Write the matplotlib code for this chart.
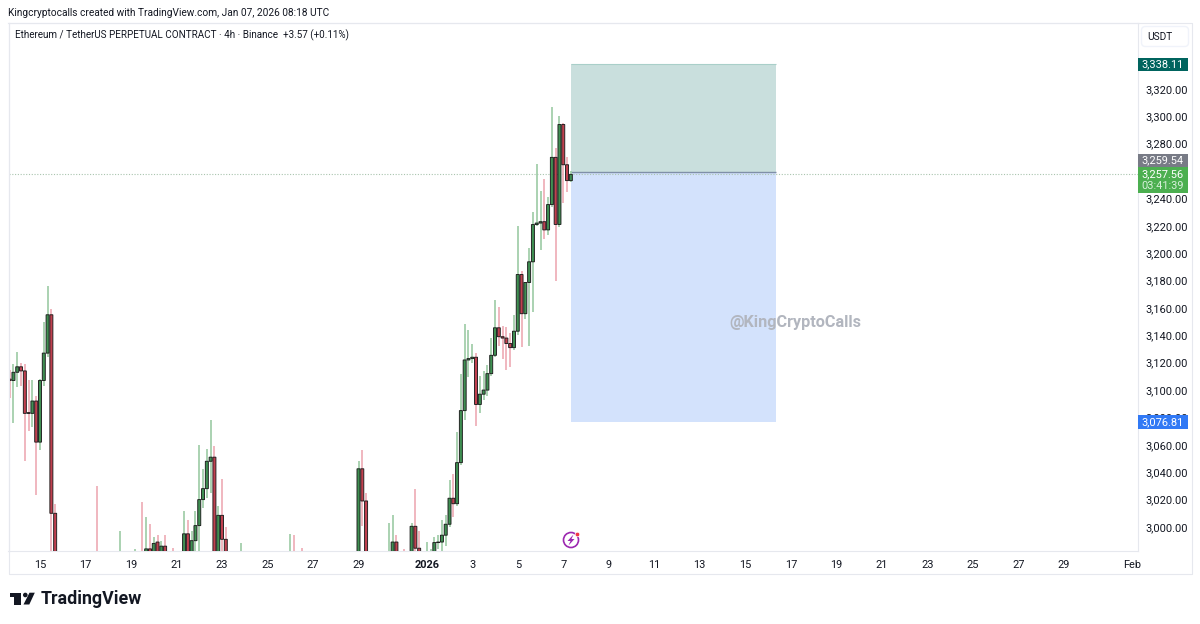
import matplotlib
matplotlib.use("Agg")
import matplotlib.dates as mdates
import pandas as pd
from matplotlib import pyplot as plt
from matplotlib.patches import Circle, FancyBboxPatch, Polygon, Rectangle

W, H = 1200, 624
FONT = "Roboto"

# 4h ETHUSDT perp candles (anything under about 2982 is hidden by the axis, so a guess)
opens = [
    3108, 3107, 3113, 3117, 3114, 3083.5, 3083, 3092, 3062, 3107,
    3127, 3155, 3010, 2975, 2968, 2972, 2962, 2970, 2965, 2958,
    2966, 2972, 2968, 2975, 2965, 2970, 2962, 2956, 2964, 2972,
    2978, 2970, 2975, 2966, 2976, 2978, 2970, 2984, 2978, 2989,
    2981, 2986, 2978, 2980, 2972, 2976, 2970, 2995, 2980, 2990,
    3001, 3020, 3028, 3048, 3051, 2975, 3008.5, 2991, 2965, 2958,
    2962, 2970, 2978, 2968, 2972, 2966, 2970, 2975, 2969, 2964,
    2971, 2976, 2970, 2973, 2975, 2979, 2972, 2978, 2971, 2966,
    2972, 2968, 2962, 2958, 2965, 2970, 2964, 2960, 2968, 2972,
    2966, 2970, 2975, 3042.5, 3019, 2972, 2968, 2964, 2970, 2973,
    2975, 2980, 2989, 2974, 2978, 2971, 2975, 3000.5, 2984.5, 2979,
    2972, 2978, 2980, 2988.6, 2989, 2994, 3002, 3021, 3017, 3047,
    3085, 3122, 3123, 3124, 3089.5, 3097, 3100, 3112, 3125.4, 3145.5,
    3139, 3138, 3134, 3131, 3143, 3184.4, 3155.8, 3178.6, 3193.7, 3220.9,
    3222, 3223, 3217, 3235.5, 3270, 3221, 3294, 3264.6, 3253,
]
highs = [
    3115, 3119, 3128, 3120, 3119, 3107, 3107, 3096, 3108, 3150,
    3176, 3159, 3017, 2980, 2978, 2979, 2975, 2978, 2976, 2972,
    2979, 2980, 2978, 3030, 2975, 2978, 2974, 2970, 2978, 2997,
    2981, 2979, 2980, 2984, 2981, 3018, 3007, 3002, 2993, 2994,
    2990, 2994, 2981, 2985, 2980, 2981, 3012, 3005, 2997, 3012,
    3060, 3042, 3057, 3078, 3059, 3015, 3035, 3000, 2978, 2972,
    2976, 2988, 2981, 2978, 2980, 2975, 2979, 2981, 2977, 2974,
    2980, 2981, 2978, 2981, 2995, 2994, 2980, 2985, 2979, 2975,
    2980, 2977, 2972, 2970, 2976, 2979, 2974, 2972, 2978, 2980,
    2976, 2979, 3048, 3056, 3025, 2980, 2977, 2975, 2979, 2981,
    3003, 3009, 2994, 2980, 2984, 2980, 3003, 3028, 2997, 2981,
    2989, 2984, 2993, 2994, 3005, 3009, 3034, 3039, 3069.5, 3112,
    3148.5, 3143.6, 3134, 3127, 3110, 3114, 3118, 3138, 3165.5, 3161,
    3147, 3146, 3142, 3154.5, 3220, 3187, 3179, 3204, 3230.3, 3265,
    3245.7, 3254, 3240.8, 3307, 3277, 3300, 3295, 3270, 3260,
]
lows = [
    3094, 3076, 3102, 3103, 3048, 3070, 3073, 3023, 3056, 3103,
    3124, 2975, 2965, 2960, 2955, 2958, 2952, 2960, 2950, 2948,
    2958, 2962, 2955, 2960, 2955, 2958, 2950, 2948, 2955, 2965,
    2966, 2962, 2960, 2960, 2962, 2962, 2965, 2972, 2974, 2978,
    2976, 2975, 2968, 2968, 2964, 2966, 2966, 2978, 2976, 2975,
    2975, 3014, 3021, 3025, 2970, 2970, 2975, 2955, 2950, 2945,
    2952, 2962, 2962, 2958, 2965, 2955, 2962, 2966, 2960, 2956,
    2964, 2968, 2962, 2966, 2968, 2968, 2964, 2968, 2962, 2958,
    2964, 2956, 2950, 2948, 2958, 2960, 2954, 2950, 2962, 2964,
    2958, 2962, 2968, 3001, 2965, 2962, 2958, 2955, 2962, 2966,
    2970, 2975, 2970, 2966, 2966, 2964, 2970, 2975, 2976, 2968,
    2968, 2974, 2976, 2984, 2982, 2986, 3000, 3007, 3015, 3045,
    3078, 3109.6, 3120, 3074, 3083, 3092.6, 3096, 3110, 3124, 3132,
    3123, 3115, 3117, 3129, 3140, 3131.4, 3151.6, 3132, 3157, 3220,
    3202, 3210, 3213, 3234, 3180, 3219, 3237, 3245, 3252,
]
closes = [
    3107, 3113, 3117, 3114, 3083, 3083, 3092, 3062, 3107, 3127,
    3155, 3010, 2975, 2968, 2972, 2962, 2970, 2965, 2958, 2966,
    2972, 2968, 2960, 2965, 2970, 2962, 2956, 2964, 2972, 2978,
    2970, 2975, 2966, 2976, 2968, 2970, 2984, 2978, 2988, 2981,
    2986, 2978, 2974, 2972, 2976, 2970, 2995, 2980, 2990, 3001,
    3020, 3028, 3048, 3051, 2975, 3008.5, 2991, 2965, 2958, 2962,
    2970, 2978, 2968, 2972, 2966, 2970, 2975, 2969, 2964, 2971,
    2976, 2970, 2973, 2975, 2979, 2972, 2976, 2971, 2966, 2972,
    2968, 2962, 2958, 2965, 2970, 2964, 2960, 2968, 2972, 2966,
    2970, 2975, 3042.5, 3019, 2972, 2968, 2964, 2970, 2973, 2975,
    2980, 2989, 2974, 2970, 2971, 2975, 3000.5, 2984.5, 2979, 2972,
    2978, 2980, 2988.6, 2989, 2994, 3002, 3021, 3017, 3047, 3085,
    3122, 3123, 3124, 3089.5, 3097, 3100, 3112, 3125.4, 3145.5, 3139,
    3138, 3134, 3131, 3143, 3184.4, 3155.8, 3178.6, 3193.7, 3220.9, 3222,
    3223, 3217, 3235.5, 3270, 3221, 3294, 3264.6, 3253, 3257.56,
]
first_candle = "2025-12-13 16:00"

target_price = 3338.11
entry_price = 3259.54
last_price = 3257.56
stop_price = 3076.81
position_start = "2026-01-07 08:00"
position_end = "2026-01-16 08:00"

price_ticks = list(range(3000, 3341, 20))
date_ticks = ["2025-12-15", "2025-12-17", "2025-12-19", "2025-12-21", "2025-12-23", "2025-12-25",
              "2025-12-27", "2025-12-29", "2026-01-01", "2026-01-03", "2026-01-05", "2026-01-07",
              "2026-01-09", "2026-01-11", "2026-01-13", "2026-01-15", "2026-01-17", "2026-01-19",
              "2026-01-21", "2026-01-23", "2026-01-25", "2026-01-27", "2026-01-29", "2026-02-01"]
date_labels = ["15", "17", "19", "21", "23", "25", "27", "29", "2026", "3", "5", "7", "9", "11",
               "13", "15", "17", "19", "21", "23", "25", "27", "29", "Feb"]

LINE = "#e6e8ee"
TEXT = "#131722"
AXIS_SIZE = 7.9

plt.rcParams["font.family"] = FONT
fig = plt.figure(figsize=(W / 100, H / 100), dpi=100, facecolor="white")
left, right, top, bottom = 8.5, 1138, 22.7, 551
ax = fig.add_axes([left / W, 1 - bottom / H, (right - left) / W, (bottom - top) / H])

times = pd.date_range(first_candle, periods=len(opens), freq="4h")
x = mdates.date2num(times)
wick_colors = ["#9ccba4" if c >= o else "#eeaab4" for o, c in zip(opens, closes)]
body_colors = ["#3f8f52" if c >= o else "#c0404f" for o, c in zip(opens, closes)]

# x axis is 22.75 px per day
d0 = mdates.date2num(pd.Timestamp("2025-12-15"))
ax.set_xlim(d0 + (left - 40) / 22.75, d0 + (right - 40) / 22.75)
ax.set_ylim(3320 - (bottom - 88.9) / 1.369, 3320 + (88.9 - top) / 1.369)

pos_x0 = mdates.date2num(pd.Timestamp(position_start))
pos_x1 = mdates.date2num(pd.Timestamp(position_end))
ax.fill_between([pos_x0, pos_x1], entry_price, target_price, facecolor="#c9dfdd", edgecolor="none", zorder=1)
ax.fill_between([pos_x0, pos_x1], stop_price, entry_price, facecolor="#d3e2fc", edgecolor="none", zorder=1)
ax.hlines(target_price, pos_x0, pos_x1, color="#a9cfc9", lw=0.8, zorder=2)
ax.hlines(entry_price, pos_x0, pos_x1, color="#7f8fa8", lw=1, zorder=2)
ax.axhline(last_price, color="#a9c4ae", lw=0.8, ls=(0, (1, 1.5)), zorder=2)

ax.vlines(x, lows, highs, colors=wick_colors, lw=1.2, zorder=3)
heights = [abs(c - o) for o, c in zip(opens, closes)]
bases = [min(o, c) for o, c in zip(opens, closes)]
bars = ax.bar(x, heights, bottom=bases, width=3.0 / 22.75, color=body_colors, edgecolor="#1c1c1c",
              linewidth=0.65, zorder=4)
for bar in bars:
    bar.set_snap(False)

ax.yaxis.tick_right()
ax.set_yticks(price_ticks)
# 3,260.00 is completely under the price tags in the screenshot
ax.set_yticklabels(["" if p == 3260 else f"{p:,.2f}" for p in price_ticks], fontsize=AXIS_SIZE, color=TEXT)
ax.set_xticks(mdates.date2num(pd.to_datetime(date_ticks)))
ax.set_xticklabels(date_labels, fontsize=AXIS_SIZE, color=TEXT)
ax.get_xticklabels()[date_labels.index("2026")].set_fontweight("bold")
ax.tick_params(axis="both", length=0)
ax.tick_params(axis="y", pad=5.5)
ax.tick_params(axis="x", pad=6.5)
for side in ax.spines.values():
    side.set_color(LINE)
    side.set_linewidth(0.8)

# everything else is placed in picture pixels on a clear layer
ov = fig.add_axes([0, 0, 1, 1], facecolor="none")
ov.set_xlim(0, W)
ov.set_ylim(H, 0)
ov.axis("off")
fig.canvas.draw()


def price_y(p):
    return H - ax.transData.transform((ax.get_xlim()[0], p))[1]


ov.plot([left, 1191.7, 1191.7, left, left], [top, top, 574, 574, top], color=LINE, lw=0.8)


def tag(y, label, color, height=13):
    ov.add_patch(Rectangle((right, y - height / 2), 49.5, height, facecolor=color, edgecolor="none"))
    ov.text(right + 25, y, label, color="white", fontsize=AXIS_SIZE, ha="center", va="center")


tag(price_y(target_price), f"{target_price:,.2f}", "#00645e")
tag(price_y(stop_price), f"{stop_price:,.2f}", "#3179f5", height=14)
# the grey tag gets pushed up so it does not sit on the last price tag
tag(160.5, f"{entry_price:,.2f}", "#787b86")
ly = price_y(last_price)
ov.add_patch(Rectangle((right, 167), 49.5, 26, facecolor="#4caf50", edgecolor="none"))
ov.text(right + 25, ly, f"{last_price:,.2f}", color="white", fontsize=AXIS_SIZE, ha="center", va="center")
ov.text(right + 25, 186, "03:41:39", color="#d8f0da", fontsize=AXIS_SIZE, ha="center", va="center")

ov.add_patch(FancyBboxPatch((1143, 28), 44, 17, boxstyle="round,pad=1.5,rounding_size=4",
                            facecolor="white", edgecolor="#f0f3fa", lw=1))
ov.text(1147.5, 36.5, "USDT", color=TEXT, fontsize=7.3, va="center")

ov.text(8, 13, "Kingcryptocalls created with TradingView.com, Jan 07, 2026 08:18 UTC",
        color=TEXT, fontsize=7.3, va="center")
ov.text(15, 35, "Ethereum / TetherUS PERPETUAL CONTRACT · 4h · Binance  +3.57 (+0.11%)",
        color=TEXT, fontsize=7.15, va="center")
ov.text(729, 323, "@KingCryptoCalls", color="#b2b6bf", fontsize=11.7, fontweight="bold", va="center")

# lightning marker over the time axis
ov.add_patch(Circle((571, 540), 7.5, facecolor="white", edgecolor="#9c27b0", lw=1.2))
ov.add_patch(Polygon([(573.5, 534.5), (567.5, 541), (570.5, 541), (568.5, 545.5), (574.5, 539), (571.5, 539)],
                     facecolor="#9c27b0", edgecolor="none"))
ov.add_patch(Circle((577.5, 534.5), 2.3, facecolor="#f23645", edgecolor="white", lw=0.5))

# TradingView logo
ov.add_patch(Polygon([(10, 592.7), (21, 592.7), (21, 604.5), (13.7, 604.5), (13.7, 597), (10, 597)],
                     facecolor=TEXT, edgecolor="none"))
ov.add_patch(Circle((25.3, 595), 2.3, facecolor=TEXT, edgecolor="none"))
ov.add_patch(Polygon([(29.5, 592.7), (34.8, 592.7), (29.3, 604.5), (23.5, 604.5)], facecolor=TEXT, edgecolor="none"))
ov.text(41, 599, "TradingView", color=TEXT, fontsize=12.8, fontweight="bold", va="center")

fig.savefig("out.png", dpi=100)
